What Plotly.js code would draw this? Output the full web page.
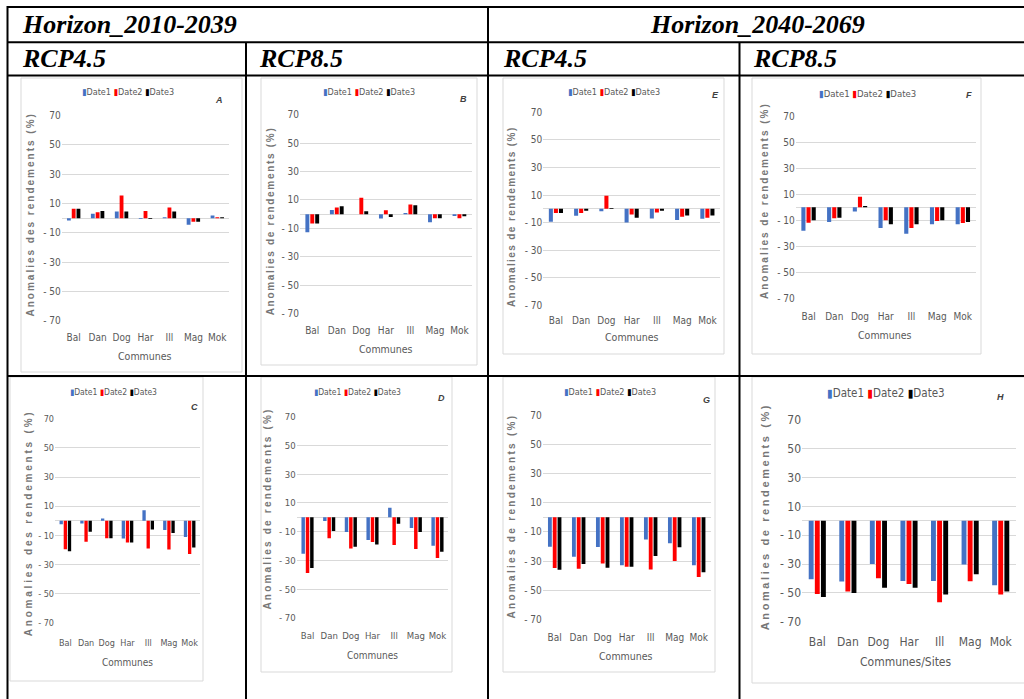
<!DOCTYPE html>
<html>
<head>
<meta charset="utf-8">
<script src="https://cdn.plot.ly/plotly-3.0.1.min.js"></script>
<style>
  html, body { margin: 0; padding: 0; background: #ffffff; }
  #chart { width: 1024px; height: 699px; }
</style>
</head>
<body>
<div id="chart"></div>
<script>
// Yield anomalies (%) per commune and sowing date
const communes = ['Bal', 'Dan', 'Dog', 'Har', 'Ill', 'Mag', 'Mok'];
const seriesNames = ['Date1', 'Date2', 'Date3'];
const seriesColors = ['#4472C4', '#FF0000', '#000000'];
const yTickVals = [-70, -50, -30, -10, 10, 30, 50, 70];
const yTickText = ['- 70', '- 50', '- 30', '- 10', '10', '30', '50', '70'];

// Horizon 2010-2039, RCP4.5
const valuesA = [
  [-1.6, 3.0, 4.5, -0.5, 0.7, -4.5, 1.8],
  [6.4, 4.1, 15.5, 5.0, 7.3, -2.5, 0.6],
  [6.4, 5.0, 4.5, -0.5, 4.5, -2.5, 0.6]
];
const valuesC = [
  [-2.3, -1.8, 1.6, -12.1, 7.3, -6.2, -11.0],
  [-19.4, -14.4, -11.9, -14.8, -19.0, -19.6, -22.8],
  [-20.8, -7.5, -11.9, -14.8, -5.9, -8.4, -18.3]
];
// Horizon 2010-2039, RCP8.5
const valuesB = [
  [-12.7, 3.0, 0.0, -3.0, 0.9, -5.6, -1.2],
  [-6.6, 4.7, 11.5, 2.8, 6.8, -2.8, -2.8],
  [-6.6, 5.6, 2.1, -1.9, 6.3, -2.8, -1.4]
];
const valuesD = [
  [-25.3, -2.6, -10.2, -15.8, 6.7, -7.4, -19.7],
  [-38.7, -14.6, -21.6, -17.2, -19.3, -22.0, -28.3],
  [-35.3, -9.5, -20.4, -18.8, -4.4, -10.2, -23.9]
];
// Horizon 2040-2069, RCP4.5
const valuesE = [
  [-9.4, -5.1, -1.7, -9.9, -7.0, -8.2, -7.3],
  [-3.1, -3.1, 9.4, -4.1, -2.7, -5.8, -6.5],
  [-3.1, -1.5, 0.5, -6.5, -1.5, -4.8, -4.8]
];
const valuesG = [
  [-20.1, -26.9, -20.3, -32.8, -15.1, -17.8, -32.8],
  [-34.7, -35.1, -31.5, -33.8, -35.6, -29.9, -40.8],
  [-35.8, -31.9, -34.4, -33.8, -26.5, -20.5, -37.6]
];
// Horizon 2040-2069, RCP8.5
const valuesF = [
  [-18.0, -11.3, -3.3, -15.9, -20.3, -13.1, -13.1],
  [-11.8, -8.5, 8.2, -10.0, -15.9, -10.5, -12.1],
  [-10.0, -8.0, 1.0, -13.1, -13.1, -10.0, -11.3]
];
const valuesH = [
  [-40.5, -42.1, -29.9, -41.7, -41.7, -30.3, -44.7],
  [-50.7, -49.1, -39.8, -43.8, -56.5, -41.9, -51.2],
  [-52.8, -50.0, -46.5, -46.5, -51.2, -37.0, -49.1]
];

const headerTop = ['Horizon_2010-2039', 'Horizon_2040-2069'];
const headerScenario = ['RCP4.5', 'RCP8.5', 'RCP4.5', 'RCP8.5'];

// Page geometry in pixels
const W = 1024, HGT = 699;
const px = x => x / W;
const py = y => 1 - y / HGT;

const panels = [
  { letter: 'A', vals: valuesA, ytitle: 'Anomalies des rendements (%)', xtitle: 'Communes',
    plot: [61.7, 229.3, 115.7, 320.7], fs: 10, yGap: 11, xLabY: 337.3,
    leg: [128, 92.3, 9], tag: [219, 99.7], yt: [30, 214.5, 10, 2.0], xt: [145, 356, 10.5], box: [21, 242, 78, 372] },
  { letter: 'B', vals: valuesB, ytitle: 'Anomalies de rendements (%)', xtitle: 'Communes',
    plot: [300, 471.7, 114.7, 313.7], fs: 10, yGap: 11, xLabY: 329.7,
    leg: [368.5, 92.3, 9], tag: [463, 98.7], yt: [270, 221.3, 10, 1.7], xt: [386, 348.7, 10.5], box: [261, 477, 78, 365] },
  { letter: 'E', vals: valuesE, ytitle: 'Anomalies de rendements (%)', xtitle: 'Communes',
    plot: [543.3, 720, 112.3, 305.3], fs: 10, yGap: 12.6, xLabY: 319.7,
    leg: [614, 92, 9], tag: [715, 94.7], yt: [511.7, 216.3, 10, 1.4], xt: [631.7, 337.3, 10.5], box: [503, 724, 78, 354] },
  { letter: 'F', vals: valuesF, ytitle: 'Anomalies de rendements (%)', xtitle: 'Communes',
    plot: [795.7, 975.7, 116.3, 298.3], fs: 10, yGap: 12.7, xLabY: 315.7,
    leg: [867, 93, 9.5], tag: [969, 94.7], yt: [764, 201, 10, 2.0], xt: [885.3, 335.3, 10.5], box: [752, 981, 78, 354] },
  { letter: 'C', vals: valuesC, ytitle: 'Anomalies des rendements (%)', xtitle: 'Communes',
    plot: [55, 200, 418.7, 623], fs: 9, yGap: 10, xLabY: 642.7,
    leg: [113, 392.3, 8.5], tag: [194, 406.7], yt: [28.3, 523, 10, 2.8], xt: [127.3, 662.3, 10], box: [10, 203, 377, 681] },
  { letter: 'D', vals: valuesD, ytitle: 'Anomalies de rendements (%)', xtitle: 'Communes',
    plot: [296.7, 448.3, 416.7, 618], fs: 9.5, yGap: 10.7, xLabY: 635,
    leg: [357.5, 391.7, 8.5], tag: [441, 397.7], yt: [267.3, 508.3, 10, 2.2], xt: [372.3, 655, 10], box: [261, 452, 377, 672] },
  { letter: 'G', vals: valuesG, ytitle: 'Anomalies de rendements (%)', xtitle: 'Communes',
    plot: [542.7, 710.7, 415, 619.7], fs: 10, yGap: 12, xLabY: 636.7,
    leg: [610, 391.7, 9], tag: [706.7, 400], yt: [511.7, 515.8, 10, 2.3], xt: [626, 656, 10.5], box: [503, 715, 377, 672] },
  { letter: 'H', vals: valuesH, ytitle: 'Anomalies de rendements (%)', xtitle: 'Communes/Sites',
    plot: [802, 1016, 420, 621.7], fs: 12, yGap: 14.7, xLabY: 640.2,
    leg: [886.3, 393.3, 11.5], tag: [1000.3, 396.7], yt: [764.7, 516.5, 11, 2.6], xt: [906.3, 662.3, 12], box: [752, 1030, 377, 683] }
];

const SANS = 'Liberation Sans Narrow, Arial Narrow, DejaVu Sans Condensed, sans-serif';
const SANS_BOLD = 'Liberation Sans, Arial, sans-serif';
const SERIF = 'Liberation Serif, Times New Roman, serif';
const TEXT_GREY = '#595959';
const GRID = '#d9d9d9';
const CLEAR = 'rgba(0,0,0,0)';
const YMAX = 70.3;

const traces = [];
const layout = {
  width: W, height: HGT,
  margin: { l: 0, r: 0, t: 0, b: 0, pad: 0 },
  paper_bgcolor: '#ffffff', plot_bgcolor: CLEAR,
  barmode: 'group', bargap: 0.4, bargroupgap: 0.2,
  showlegend: false,
  annotations: [], shapes: []
};

panels.forEach((p, i) => {
  const n = i + 1;
  const xa = 'xaxis' + (n === 1 ? '' : n);
  const ya = 'yaxis' + (n === 1 ? '' : n);
  const xr = 'x' + (n === 1 ? '' : n);
  const yr = 'y' + (n === 1 ? '' : n);
  const [x0, x1, yTop, yBot] = p.plot;
  const unit = (yBot - yTop) / 140;
  const topPx = yTop - (YMAX - 70) * unit;
  const botPx = yBot + (YMAX - 70) * unit;

  // light frame around each chart
  layout.shapes.push({
    type: 'rect', xref: 'paper', yref: 'paper', layer: 'below',
    x0: px(p.box[0]), x1: px(p.box[1]), y0: py(p.box[3]), y1: py(p.box[2]),
    line: { color: '#d9d9d9', width: 1 }, fillcolor: CLEAR
  });

  // invisible outside ticks set the distance between the plot area and the category labels
  layout[xa] = {
    domain: [px(x0), px(x1)], anchor: yr,
    type: 'category', categoryorder: 'array', categoryarray: communes,
    showgrid: false, showline: false, zeroline: false,
    ticks: 'outside', ticklen: Math.max(0, p.xLabY - yBot - 5 - 0.45 * p.fs), tickcolor: CLEAR,
    tickangle: 0,
    tickfont: { family: SANS, size: p.fs, color: TEXT_GREY },
    fixedrange: true
  };
  layout[ya] = {
    domain: [py(botPx), py(topPx)], anchor: xr,
    range: [-YMAX, YMAX], tickmode: 'array', tickvals: yTickVals, ticktext: yTickText,
    showgrid: true, gridcolor: GRID, gridwidth: 1,
    zeroline: true, zerolinecolor: GRID, zerolinewidth: 1,
    showline: false, ticks: '',
    ticklabelstandoff: Math.max(0, p.yGap - 3.5),
    tickfont: { family: SANS, size: p.fs, color: TEXT_GREY },
    fixedrange: true
  };

  seriesNames.forEach((name, k) => {
    traces.push({
      type: 'bar', name: name, x: communes, y: p.vals[k],
      xaxis: xr, yaxis: yr,
      marker: { color: seriesColors[k], line: { width: 0 } },
      hoverinfo: 'skip'
    });
  });

  // legend line
  const legText = seriesNames.map((name, k) =>
    '<span style="color:' + seriesColors[k] + '">\u25AE</span>' + name).join(' ');
  layout.annotations.push({
    xref: 'paper', yref: 'paper', x: px(p.leg[0]), y: py(p.leg[1]),
    xanchor: 'center', yanchor: 'middle', showarrow: false,
    text: legText, font: { family: SANS, size: p.leg[2], color: TEXT_GREY }
  });

  // panel letter
  layout.annotations.push({
    xref: 'paper', yref: 'paper', x: px(p.tag[0]), y: py(p.tag[1]),
    xanchor: 'center', yanchor: 'middle', showarrow: false,
    text: '<b><i>' + p.letter + '</i></b>', font: { family: SANS_BOLD, size: 9, color: '#404040' }
  });

  // y-axis title
  layout.annotations.push({
    xref: 'paper', yref: 'paper', x: px(p.yt[0]), y: py(p.yt[1]),
    xanchor: 'center', yanchor: 'middle', showarrow: false, textangle: -90,
    text: '<span style="letter-spacing:' + p.yt[3] + 'px"><b>' + p.ytitle + '</b></span>',
    font: { family: SANS_BOLD, size: p.yt[2], color: '#767676' }
  });

  // x-axis title
  layout.annotations.push({
    xref: 'paper', yref: 'paper', x: px(p.xt[0]), y: py(p.xt[1]),
    xanchor: 'center', yanchor: 'middle', showarrow: false,
    text: p.xtitle, font: { family: SANS, size: p.xt[2], color: TEXT_GREY }
  });
});

// Table rules
const rule = (x0, y0, x1, y1) => ({
  type: 'line', xref: 'paper', yref: 'paper', layer: 'above',
  x0: px(x0), y0: py(y0), x1: px(x1), y1: py(y1),
  line: { color: '#000000', width: 2 }
});
layout.shapes.push(
  rule(7, 7, 1030, 7),
  rule(7, 42.3, 1030, 42.3),
  rule(7, 75.5, 1030, 75.5),
  rule(7, 376, 1030, 376),
  rule(7.5, 6, 7.5, 705),
  rule(488, 6, 488, 705),
  rule(246, 42.3, 246, 705),
  rule(739.5, 42.3, 739.5, 705)
);

// Table headers
const headFont = { family: SERIF, size: 26, color: '#000000' };
layout.annotations.push(
  { xref: 'paper', yref: 'paper', x: px(20), y: py(24.5), xanchor: 'left', yanchor: 'middle',
    showarrow: false, text: '<b><i>' + headerTop[0] + '</i></b>', font: headFont },
  { xref: 'paper', yref: 'paper', x: px(757), y: py(24.5), xanchor: 'center', yanchor: 'middle',
    showarrow: false, text: '<b><i>' + headerTop[1] + '</i></b>', font: headFont }
);
[20, 257, 501, 751].forEach((x, i) => {
  layout.annotations.push({
    xref: 'paper', yref: 'paper', x: px(x), y: py(58.5), xanchor: 'left', yanchor: 'middle',
    showarrow: false, text: '<b><i>' + headerScenario[i] + '</i></b>', font: headFont
  });
});

Plotly.newPlot('chart', traces, layout, { displayModeBar: false, staticPlot: true });
</script>
</body>
</html>
